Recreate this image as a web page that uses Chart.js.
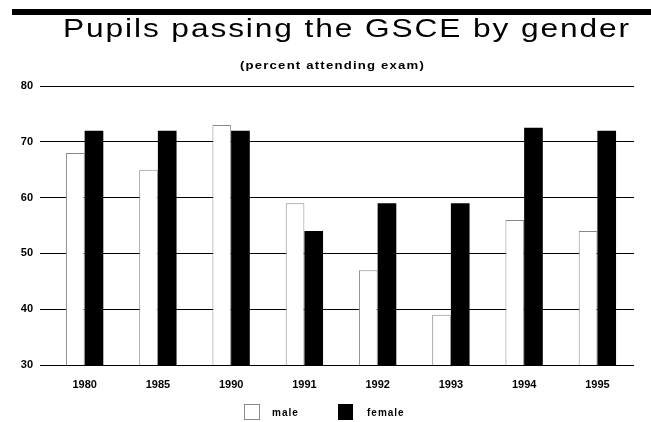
<!DOCTYPE html>
<html><head><meta charset="utf-8">
<script src="https://cdn.jsdelivr.net/npm/chart.js@4.4.1/dist/chart.umd.min.js"></script>
<style>html,body{margin:0;padding:0;background:#fff}#wrap{width:651px;height:422px}</style>
</head><body><div id="wrap"><canvas id="c" width="651" height="422"></canvas></div>
<script>
const years = ['1980','1985','1990','1991','1992','1993','1994','1995'];
const male = [68, 65, 73, 59, 47, 39, 56, 54];
const female = [72, 72, 72, 54, 59, 59, 72.5, 72];
const yTicks = [30, 40, 50, 60, 70, 80];
const titleText = 'Pupils passing the GSCE by gender';
const subtitleText = '(percent attending exam)';

const FONT = '"Liberation Sans", Arial, sans-serif';

function fitText(ctx, text, font, spacing, x0, x1, baseline) {
  ctx.save();
  ctx.font = font;
  if ('letterSpacing' in ctx) ctx.letterSpacing = spacing + 'px';
  const w = ctx.measureText(text).width;
  const sx = (x1 - x0) / w;
  ctx.translate(x0, baseline);
  ctx.scale(sx, 1);
  ctx.textAlign = 'left';
  ctx.textBaseline = 'alphabetic';
  ctx.fillStyle = '#000';
  ctx.fillText(text, 0, 0);
  ctx.restore();
}

const headerPlugin = {
  id: 'header',
  afterDraw(chart) {
    const ctx = chart.ctx;
    ctx.save();
    ctx.fillStyle = '#000';
    ctx.fillRect(12, 9, 639, 6);
    ctx.restore();
    fitText(ctx, titleText, '25px ' + FONT, 1.5, 63, 631, 37);
    fitText(ctx, subtitleText, 'bold 11px ' + FONT, 1, 240, 425, 69);
  }
};

const legendPlugin = {
  id: 'customLegend',
  afterDraw(chart) {
    const ctx = chart.ctx;
    const items = [
      {ds: chart.data.datasets[0], box: [244, 404, 16, 16], tx: 272},
      {ds: chart.data.datasets[1], box: [338, 404, 15, 16], tx: 367}
    ];
    ctx.save();
    items.forEach(it => {
      const [x, y, w, h] = it.box;
      ctx.fillStyle = it.ds.backgroundColor;
      ctx.fillRect(x, y, w, h);
      ctx.strokeStyle = it.ds.borderColor;
      ctx.lineWidth = 1;
      ctx.strokeRect(x + 0.5, y + 0.5, w - 1, h - 1);
      ctx.fillStyle = '#000';
      ctx.font = 'bold 10px ' + FONT;
      if ('letterSpacing' in ctx) ctx.letterSpacing = '1px';
      ctx.textBaseline = 'middle';
      ctx.textAlign = 'left';
      ctx.fillText(it.ds.label, it.tx, y + 9);
    });
    ctx.restore();
  }
};

new Chart(document.getElementById('c'), {
  type: 'bar',
  data: {
    labels: years,
    datasets: [
      {label: 'male', data: male, backgroundColor: '#ffffff', borderColor: '#8a8a8a', borderWidth: 1,
       categoryPercentage: 0.51, barPercentage: 1.0},
      {label: 'female', data: female, backgroundColor: '#000000', borderColor: '#000000', borderWidth: 0,
       categoryPercentage: 0.51, barPercentage: 1.0}
    ]
  },
  options: {
    responsive: false,
    animation: false,
    layout: {padding: {top: 86, left: 20, right: 17, bottom: 17}},
    plugins: {legend: {display: false}, title: {display: false}, tooltip: {enabled: false}},
    scales: {
      x: {
        grid: {display: false, drawTicks: false},
        border: {display: false},
        ticks: {color: '#000', font: {family: FONT, size: 11, weight: 'bold'}, padding: 13, maxRotation: 0},
        afterFit(s) { s.height = 40; }
      },
      y: {
        min: 30, max: 80,
        grid: {color: '#000', lineWidth: 1, drawTicks: true, tickLength: 8},
        border: {display: false},
        afterBuildTicks(s) { s.ticks = yTicks.map(v => ({value: v})); },
        ticks: {color: '#000', font: {family: FONT, size: 11, weight: 'bold'}, padding: 7},
        afterFit(s) { s.width = 28; }
      }
    }
  },
  plugins: [headerPlugin, legendPlugin]
});
</script>
</body></html>
